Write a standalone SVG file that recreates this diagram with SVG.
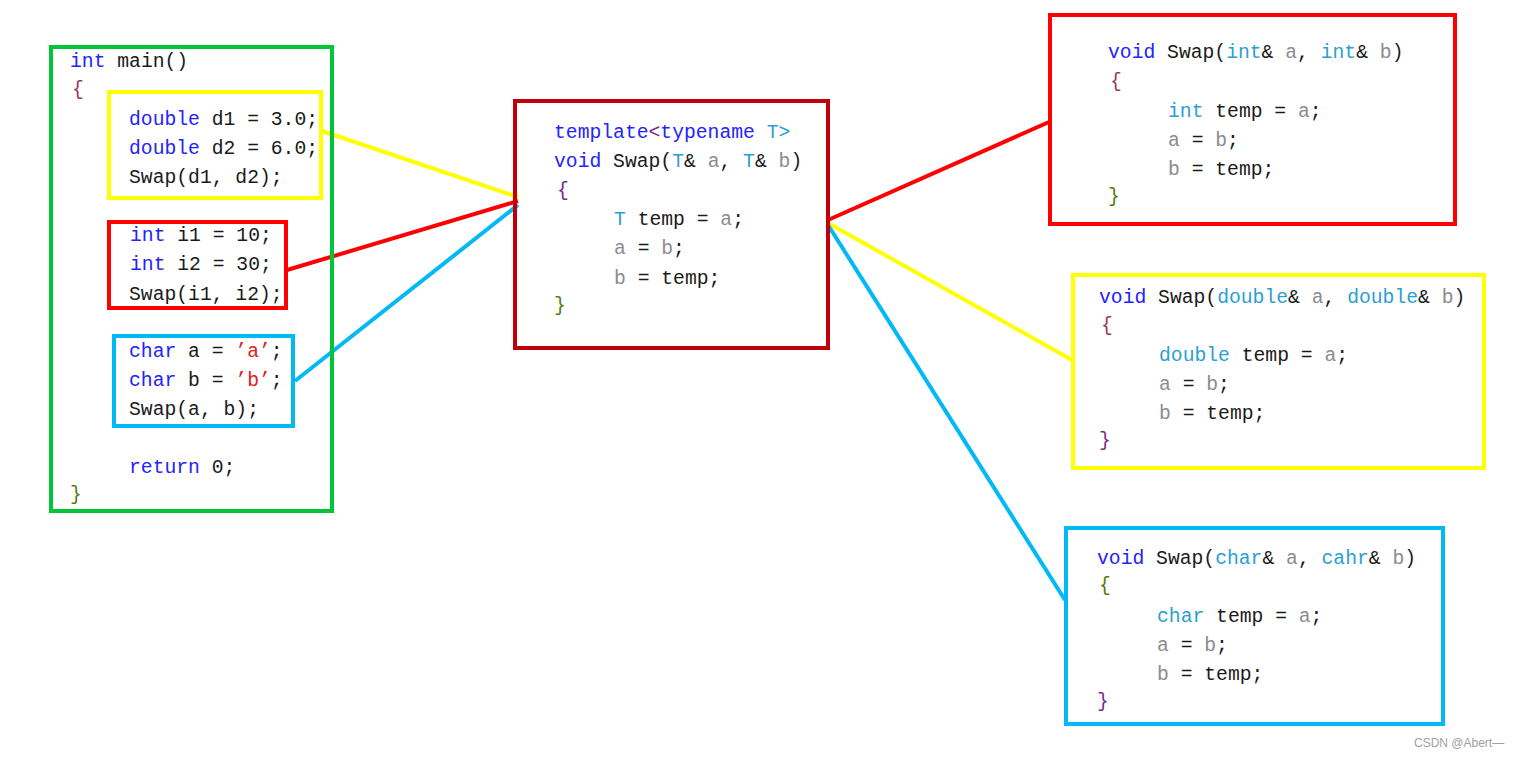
<svg xmlns="http://www.w3.org/2000/svg" width="1527" height="757" viewBox="0 0 1527 757">
<style>
text{font-family:"Liberation Mono","DejaVu Sans Mono",monospace;font-size:19.7px;fill:#1a1a1a;white-space:pre}
.box{fill:none;stroke-width:4}
.k{fill:#2323ff}
.t{fill:#2b9fd4}
.p{fill:#8c8c8c}
.s{fill:#e02020}
.b1{fill:#9b3a5a}
.b2{fill:#5a7a10}
.b3{fill:#7a2a8a}
.con{fill:none;stroke-width:4;stroke-linecap:butt}
.wm{font-family:"Liberation Sans",Arial,sans-serif;font-size:12px;fill:#a0a0a0}
</style>
<rect width="1527" height="757" fill="#ffffff"/>
<g id="connectors">
<line class="con" x1="322" y1="131" x2="518" y2="197" stroke="#ffff00"/>
<line class="con" x1="287" y1="270" x2="518" y2="201" stroke="#ff0000"/>
<line class="con" x1="295" y1="381" x2="518" y2="205" stroke="#00b9f5"/>
<line class="con" x1="828" y1="220" x2="1049" y2="122" stroke="#ff0000"/>
<line class="con" x1="828" y1="223" x2="1072" y2="360" stroke="#ffff00"/>
<line class="con" x1="828" y1="225" x2="1065" y2="600" stroke="#00b9f5"/>
</g>
<g id="main">
<rect class="box" x="51" y="47" width="281" height="464" stroke="#00c43a"/>
<text x="70" y="67"><tspan class="k">int</tspan> main()</text>
<text x="72" y="95" class="b1">{</text>
<text x="129" y="473"><tspan class="k">return</tspan> 0;</text>
<text x="70" y="500" class="b2">}</text>
</g>
<g id="double-call">
<rect class="box" x="109" y="92" width="212" height="106" stroke="#ffff00"/>
<text x="129" y="125"><tspan class="k">double</tspan> d1 = 3.0;</text>
<text x="129" y="154"><tspan class="k">double</tspan> d2 = 6.0;</text>
<text x="129" y="183">Swap(d1, d2);</text>
</g>
<g id="int-call">
<rect class="box" x="109" y="222" width="177" height="86" stroke="#ff0000"/>
<text x="130" y="241"><tspan class="k">int</tspan> i1 = 10;</text>
<text x="130" y="270"><tspan class="k">int</tspan> i2 = 30;</text>
<text x="129" y="300">Swap(i1, i2);</text>
</g>
<g id="char-call">
<rect class="box" x="114" y="336" width="179" height="90" stroke="#00b9f5"/>
<text x="129" y="357"><tspan class="k">char</tspan> a = <tspan class="s">’a’</tspan>;</text>
<text x="129" y="386"><tspan class="k">char</tspan> b = <tspan class="s">’b’</tspan>;</text>
<text x="129" y="415">Swap(a, b);</text>
</g>
<g id="template">
<rect class="box" x="515" y="101" width="313" height="247" stroke="#c00008"/>
<text x="554" y="138"><tspan class="k">template</tspan><tspan class="b3">&lt;</tspan><tspan class="k">typename</tspan> <tspan class="t">T&gt;</tspan></text>
<text x="554" y="167"><tspan class="k">void</tspan> Swap(<tspan class="t">T</tspan>&amp; <tspan class="p">a</tspan>, <tspan class="t">T</tspan>&amp; <tspan class="p">b</tspan>)</text>
<text x="557" y="196" class="b3">{</text>
<text x="614" y="225"><tspan class="t">T</tspan> temp = <tspan class="p">a</tspan>;</text>
<text x="614" y="254"><tspan class="p">a</tspan> = <tspan class="p">b</tspan>;</text>
<text x="614" y="284"><tspan class="p">b</tspan> = temp;</text>
<text x="554" y="311" class="b2">}</text>
</g>
<g id="swap-int">
<rect class="box" x="1050" y="15" width="405" height="209" stroke="#ff0000"/>
<text x="1108" y="58"><tspan class="k">void</tspan> Swap(<tspan class="t">int</tspan>&amp; <tspan class="p">a</tspan>, <tspan class="t">int</tspan>&amp; <tspan class="p">b</tspan>)</text>
<text x="1110" y="87" class="b1">{</text>
<text x="1168" y="117"><tspan class="t">int</tspan> temp = <tspan class="p">a</tspan>;</text>
<text x="1168" y="146"><tspan class="p">a</tspan> = <tspan class="p">b</tspan>;</text>
<text x="1168" y="175"><tspan class="p">b</tspan> = temp;</text>
<text x="1108" y="202" class="b2">}</text>
</g>
<g id="swap-double">
<rect class="box" x="1073" y="275" width="411" height="193" stroke="#ffff00"/>
<text x="1099" y="303"><tspan class="k">void</tspan> Swap(<tspan class="t">double</tspan>&amp; <tspan class="p">a</tspan>, <tspan class="t">double</tspan>&amp; <tspan class="p">b</tspan>)</text>
<text x="1101" y="331" class="b1">{</text>
<text x="1159" y="361"><tspan class="t">double</tspan> temp = <tspan class="p">a</tspan>;</text>
<text x="1159" y="390"><tspan class="p">a</tspan> = <tspan class="p">b</tspan>;</text>
<text x="1159" y="419"><tspan class="p">b</tspan> = temp;</text>
<text x="1099" y="446" class="b3">}</text>
</g>
<g id="swap-char">
<rect class="box" x="1066" y="528" width="377" height="196" stroke="#00b9f5"/>
<text x="1097" y="564"><tspan class="k">void</tspan> Swap(<tspan class="t">char</tspan>&amp; <tspan class="p">a</tspan>, <tspan class="t">cahr</tspan>&amp; <tspan class="p">b</tspan>)</text>
<text x="1099" y="591" class="b2">{</text>
<text x="1157" y="622"><tspan class="t">char</tspan> temp = <tspan class="p">a</tspan>;</text>
<text x="1157" y="651"><tspan class="p">a</tspan> = <tspan class="p">b</tspan>;</text>
<text x="1157" y="680"><tspan class="p">b</tspan> = temp;</text>
<text x="1097" y="707" class="b3">}</text>
</g>
<text class="wm" x="1414" y="747">CSDN @Abert—</text>
</svg>
